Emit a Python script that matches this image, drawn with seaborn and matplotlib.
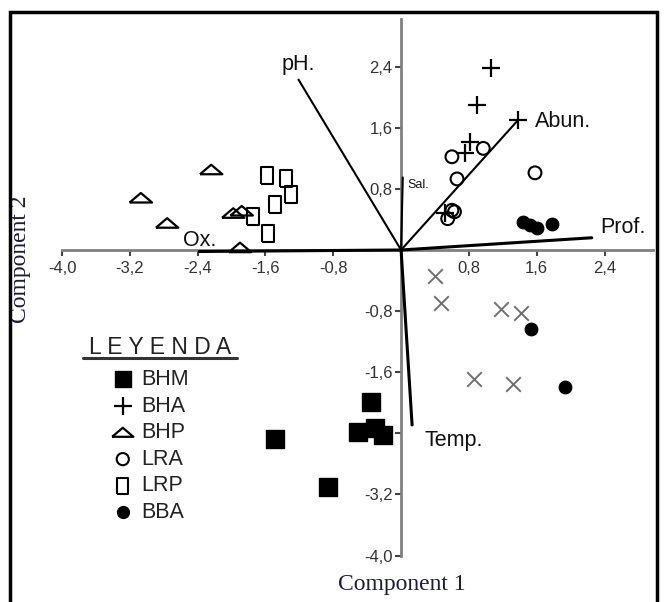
import numpy as np
import pandas as pd
import matplotlib
matplotlib.use("Agg")
import matplotlib.pyplot as plt
import seaborn as sns
from matplotlib.lines import Line2D
from matplotlib.patches import Rectangle

# PCA scores (component 1, component 2)
bhm_x = [-0.35, -0.51, -0.31, -0.21, -1.49, -0.86]
bhm_y = [-1.99, -2.38, -2.33, -2.42, -2.47, -3.10]

bha_x = [1.06, 0.90, 0.81, 0.75, 0.52, 1.38]
bha_y = [2.38, 1.90, 1.41, 1.27, 0.48, 1.70]

bhp_x = [-2.24, -3.07, -2.76, -1.98, -1.88, -1.90]
bhp_y = [1.05, 0.68, 0.35, 0.48, 0.51, 0.03]

lra_x = [0.60, 0.97, 0.66, 1.58, 0.60, 0.63, 0.55]
lra_y = [1.22, 1.33, 0.93, 1.01, 0.52, 0.50, 0.41]

lrp_x = [-1.58, -1.36, -1.30, -1.49, -1.75, -1.57]
lrp_y = [0.98, 0.93, 0.72, 0.59, 0.44, 0.22]

bba_x = [1.44, 1.52, 1.60, 1.78, 1.53, 1.93]
bba_y = [0.37, 0.33, 0.29, 0.34, -1.03, -1.79]

# grey crosses, not in the legend
other_x = [0.40, 0.47, 1.18, 1.41, 0.86, 1.32]
other_y = [-0.34, -0.69, -0.77, -0.82, -1.69, -1.76]

# loading vectors
vec_names = ["pH.", "Abun.", "Prof.", "Temp.", "Ox.", "Sal."]
vec_x = [-1.21, 1.38, 2.25, 0.13, -2.38, 0.02]
vec_y = [2.23, 1.70, 0.16, -2.29, -0.02, 0.95]

x_ticks = [-4.0, -3.2, -2.4, -1.6, -0.8, 0.8, 1.6, 2.4]
y_ticks = [2.4, 1.6, 0.8, -0.8, -1.6, -2.4, -3.2, -4.0]
groups = ["BHM", "BHA", "BHP", "LRA", "LRP", "BBA"]

frames = []
for name, xs, ys in zip(groups + ["other"],
                        [bhm_x, bha_x, bhp_x, lra_x, lrp_x, bba_x, other_x],
                        [bhm_y, bha_y, bhp_y, lra_y, lrp_y, bba_y, other_y]):
    frames.append(pd.DataFrame({"c1": xs, "c2": ys, "group": name}))
df = pd.concat(frames, ignore_index=True)

sns.set_style("white")
plt.rcParams["font.family"] = ["Liberation Sans", "DejaVu Sans"]

fig = plt.figure(figsize=(6.64, 6.02), dpi=100)
ax = fig.add_axes([0.0870, 0.0708, 0.900, 0.901])

# marker shapes (squares look tall, triangles look flat in the original)
tri = [(-1, -0.4), (1, -0.4), (0, 0.45), (-1, -0.4)]
rect = [(-0.35, -0.5), (0.35, -0.5), (0.35, 0.5), (-0.35, 0.5), (-0.35, -0.5)]
styles = {
    "BHM": dict(marker="s", s=150, facecolor="black", edgecolor="black"),
    "BHA": dict(marker="+", s=170, color="black", linewidth=1.6),
    "BHP": dict(marker=tri, s=260, facecolor="none", edgecolor="black", linewidth=1.6),
    "LRA": dict(marker="o", s=85, facecolor="none", edgecolor="black", linewidth=1.5),
    "LRP": dict(marker=rect, s=150, facecolor="none", edgecolor="black", linewidth=1.5),
    "BBA": dict(marker="o", s=85, facecolor="black", edgecolor="black"),
}

# loading vectors
for name, vx, vy in zip(vec_names, vec_x, vec_y):
    lw = 2.2 if name in ("Ox.", "Temp.", "Prof.") else 1.5
    ax.plot([0, vx], [0, vy], color="black", lw=lw, zorder=3)

label_pos = {
    "pH.": (-1.21, 2.43, "center"),
    "Abun.": (1.58, 1.68, "left"),
    "Prof.": (2.35, 0.30, "left"),
    "Temp.": (0.28, -2.49, "left"),
    "Ox.": (-2.37, 0.12, "center"),
    "Sal.": (0.07, 0.85, "left"),
}
for name in vec_names:
    lx, ly, ha = label_pos[name]
    ax.text(lx, ly, name, ha=ha, va="center",
            fontsize=9 if name == "Sal." else 15.5, color="#111111", zorder=5)

for g in groups:
    sub = df[df["group"] == g]
    sns.scatterplot(data=sub, x="c1", y="c2", ax=ax, label=g, zorder=4, **styles[g])

sub = df[df["group"] == "other"]
sns.scatterplot(data=sub, x="c1", y="c2", ax=ax, marker="x", s=110,
                color="#707070", linewidth=1.4, legend=False, zorder=4)

# axes crossing at the origin
ax.set_xlim(-4.05, 3.0)
ax.set_ylim(-4.05, 3.05)
for side in ["top", "right"]:
    ax.spines[side].set_visible(False)
ax.spines["left"].set_position(("data", 0))
ax.spines["bottom"].set_position(("data", 0))
ax.spines["left"].set_bounds(-4.0, 3.02)
ax.spines["bottom"].set_bounds(-4.0, 2.97)
for side in ["left", "bottom"]:
    ax.spines[side].set_color("#808080")
    ax.spines[side].set_linewidth(2.0)

ax.set_xticks(x_ticks, [f"{v:.1f}".replace(".", ",") for v in x_ticks])
ax.set_yticks(y_ticks, ["" if abs(v + 2.4) < 1e-9 else f"{v:.1f}".replace(".", ",")
                        for v in y_ticks])
ax.tick_params(axis="both", direction="out", length=4, width=1.5, color="#444444",
               labelsize=12, labelcolor="#333333", pad=2)
ax.tick_params(axis="x", bottom=True, pad=4)
ax.tick_params(axis="y", left=True)

ax.set_xlabel("Component 1", family=["Liberation Serif"], fontsize=17, color="#1c1c3a")
ax.set_ylabel("Component 2", family=["Liberation Serif"], fontsize=17, color="#1c1c3a")
ax.xaxis.set_label_coords(0.576, -0.047)
ax.xaxis.label.set_va("center")
ax.yaxis.set_label_coords(-0.063, 0.554)
ax.yaxis.label.set_va("center")

# legend
handles, labels = ax.get_legend_handles_labels()
leg = ax.legend(handles, labels, loc="upper left", frameon=False,
                bbox_to_anchor=(112 / 664, 1 - 369 / 602), bbox_transform=fig.transFigure,
                fontsize=15.5, handlelength=1.0, handletextpad=0.35,
                labelspacing=0.26, borderpad=0, borderaxespad=0, markerscale=0.95)
for t in leg.get_texts():
    t.set_color("#222222")
fig.text(160 / 664, 1 - 347 / 602, "L E Y E N D A", ha="center", va="center",
         fontsize=16.5, color="#222222")
fig.add_artist(Line2D([83 / 664, 237 / 664], [1 - 358 / 602] * 2,
                      transform=fig.transFigure, lw=2.2, color="#333333"))

# outer frame of the original figure
fig.add_artist(Rectangle((0.015, -0.05), 0.9745, 1.03, transform=fig.transFigure,
                         fill=False, lw=2.5, ec="black"))

fig.savefig("out.png", dpi=100)
